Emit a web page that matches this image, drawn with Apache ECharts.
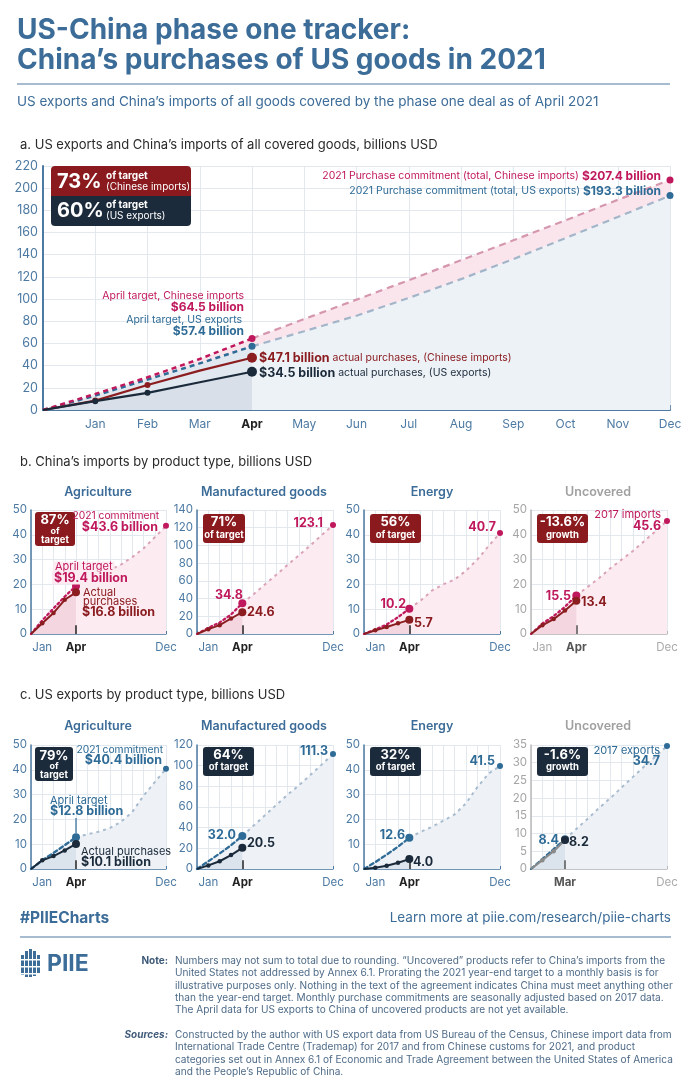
<!DOCTYPE html>
<html><head><meta charset="utf-8">
<script src="https://cdn.jsdelivr.net/npm/echarts@6/dist/echarts.min.js"></script>
<style>html,body{margin:0;padding:0;background:#fff}#c{width:699px;height:1088px}</style>
</head><body><div id="c"></div>
<script>
// ---------- DATA ----------
const months = ['', 'Jan','Feb','Mar','Apr','May','Jun','Jul','Aug','Sep','Oct','Nov','Dec'];
// a. all covered goods (billions USD, cumulative)
const aCnTarget = [0, 14.5, 29.5, 46, 64.5, 82, 99.5, 117, 135, 153, 171, 189.5, 207.4];
const aUsTarget = [0, 13, 27.5, 42, 57.4, 71, 85, 101, 118, 136, 155, 174, 193.3];
const aCnActual = [0, 8.5, 22.5, 35.5, 47.1];
const aUsActual = [0, 8, 15.5, 25, 34.5];
const aCnPct = '73%', aUsPct = '60%';
// b. China's imports by product type
const bAgTarget = [0, 5.5, 10.3, 15.1, 19.4, 21.5, 23.5, 25.8, 28, 31, 34.5, 39, 43.6];
const bAgActual = [0, 4.3, 8.5, 13.8, 16.8];
const bMfTarget = [0, 7, 13, 22, 34.8, 45, 56, 67, 78, 89, 100, 111.5, 123.1];
const bMfActual = [0, 5.5, 10, 17.5, 24.6];
const bEnTarget = [0, 1.8, 3.8, 6.8, 10.2, 13.5, 17.5, 20, 22, 25.5, 30, 35.5, 40.7];
const bEnActual = [0, 1.5, 2.8, 4.3, 5.7];
const bUnTarget = [0, 4.2, 7.2, 11, 15.5, 19, 22.5, 26.5, 30, 33.5, 37.5, 41.5, 45.6];
const bUnActual = [0, 3.5, 6, 9.5, 13.4];
const bPct = ['87%', '71%', '56%', '-13.6%'];
// c. US exports by product type
const cAgTarget = [0, 3.5, 6.5, 9.6, 12.8, 14, 15, 16.5, 19, 23, 29.5, 35, 40.4];
const cAgActual = [0, 3.5, 5.2, 7.5, 10.1];
const cMfTarget = [0, 7.5, 15, 23, 32.0, 42, 52, 62, 72, 81, 91, 101, 111.3];
const cMfActual = [0, 3.5, 7.5, 13.5, 20.5];
const cEnTarget = [0, 2.8, 5.8, 9, 12.6, 15, 17, 19.5, 22, 26.5, 33, 38.5, 41.5];
const cEnActual = [0, 0.5, 1.3, 2.5, 4.0];
const cUnTarget = [0, 2.8, 5.6, 8.4, 11.3, 14.2, 17.2, 20, 23, 26, 29, 31.8, 34.7];
const cUnActual = [0, 2.5, 5, 8.2];
const cPct = ['79%', '64%', '32%', '-1.6%'];

// ---------- STYLE ----------
const FONT = "Inter, 'Open Sans', sans-serif";
const C = {
  title:'#3c6c98', magenta:'#c0185c', magentaLight:'#dba3b8', darkred:'#8b1d20',
  navy:'#1b2a3a', blue:'#2e6b96', blueLight:'#a9bccf', axis:'#4d7aa3', grid:'#e3e8ef',
  gray:'#a8a8a8', redBox:'#8a1a1e', navyBox:'#1c2b3b', note:'#4e6b88'
};
const f1 = v => v.toFixed(1);

const grids=[], xAxes=[], yAxes=[], series=[], G=[];

function line(g, o){ return Object.assign({type:'line', xAxisIndex:g, yAxisIndex:g, silent:true, animation:false, showAllSymbol:true, symbol:'circle'}, o); }

// ---------- PANEL A ----------
grids.push({left:43, top:166, width:627, height:244});
xAxes.push({gridIndex:0, type:'category', data:months, boundaryGap:false,
  axisLine:{lineStyle:{color:C.axis, width:2}},
  axisTick:{show:true, inside:true, length:5, interval:0, lineStyle:{color:C.axis, width:1.5}},
  axisLabel:{interval:0, margin:8, formatter:v => v==='Apr' ? '{b|Apr}' : '{n|'+v+'}',
    rich:{b:{fontFamily:FONT, fontWeight:'bold', fontSize:12, color:'#222'}, n:{fontFamily:FONT, fontSize:12, color:C.axis}}},
  splitLine:{show:true, interval:0, lineStyle:{color:C.grid}}});
yAxes.push({gridIndex:0, type:'value', min:0, max:220, interval:20,
  axisLine:{show:true, lineStyle:{color:C.axis, width:2}}, axisTick:{show:false},
  axisLabel:{fontFamily:FONT, fontSize:12.5, color:C.axis, margin:5},
  splitLine:{lineStyle:{color:C.grid}}});
const aBand = aCnTarget.map((v,i)=> +(v - aUsTarget[i]).toFixed(2));
const preA = arr => arr.slice(0,5);
const postA = arr => arr.map((v,i)=> i<4 ? null : v);
series.push(
  line(0,{data:aUsTarget, stack:'band', symbol:'none', lineStyle:{width:0}, areaStyle:{color:'#edf2f7', opacity:1}, z:1}),
  line(0,{data:aBand, stack:'band', symbol:'none', lineStyle:{width:0}, areaStyle:{color:'#fbe5ed', opacity:1}, z:1}),
  line(0,{data:preA(aUsTarget), symbol:'none', lineStyle:{width:0}, areaStyle:{color:'#e2e8ef', opacity:1}, z:1}),
  line(0,{data:aUsActual, symbol:'none', lineStyle:{width:0}, areaStyle:{color:'#d8dfe8', opacity:1}, z:1}),
  line(0,{data:postA(aCnTarget), lineStyle:{color:'#d597ae', width:2.2, type:[7,5]}, itemStyle:{color:C.magenta},
    symbolSize:(v,p)=> p.dataIndex===12 ? 7 : 0, z:3}),
  line(0,{data:postA(aUsTarget), lineStyle:{color:'#a3b5c8', width:2.2, type:[7,5]}, itemStyle:{color:C.blue},
    symbolSize:(v,p)=> p.dataIndex===12 ? 7 : 0, z:3}),
  line(0,{data:preA(aUsTarget), lineStyle:{color:C.blue, width:2.5, type:[5,4]}, itemStyle:{color:C.blue},
    symbolSize:(v,p)=> p.dataIndex===4 ? 7 : 0, z:4}),
  line(0,{data:preA(aCnTarget), lineStyle:{color:C.magenta, width:2.5, type:[5,4]}, itemStyle:{color:C.magenta},
    symbolSize:(v,p)=> p.dataIndex===4 ? 7 : 0, z:4}),
  line(0,{data:aCnActual, lineStyle:{color:C.darkred, width:2.2}, itemStyle:{color:C.darkred},
    symbolSize:(v,p)=> p.dataIndex===4 ? 10 : (p.dataIndex===1||p.dataIndex===2 ? 6 : 0), z:5}),
  line(0,{data:aUsActual, lineStyle:{color:C.navy, width:2.2}, itemStyle:{color:C.navy},
    symbolSize:(v,p)=> p.dataIndex===4 ? 10 : (p.dataIndex===1||p.dataIndex===2 ? 6 : 0), z:5})
);

// ---------- SMALL CHARTS ----------
function small(cfg){
  const g = grids.length;
  const imp = cfg.kind==='imp';
  const strong = imp ? C.magenta : C.blue;
  const light = imp ? C.magentaLight : C.blueLight;
  const fillL = imp ? '#fcecf2' : '#eef2f7';
  const fillD = imp ? '#f4d6e1' : '#dbe3ec';
  const act = cfg.actColor || (imp ? C.darkred : C.navy);
  const axisC = cfg.unc ? '#b8b8b8' : C.axis;
  const split = cfg.actual.length - 1;
  grids.push({left:cfg.left, top:cfg.top, width:cfg.width||136, height:124});
  xAxes.push({gridIndex:g, type:'category', data:months, boundaryGap:false,
    axisLine:{lineStyle:{color:axisC, width:1.5}},
    axisTick:{show:true, inside:true, length:3, interval:0, lineStyle:{color:axisC}},
    axisLabel:{interval:0, margin:8, formatter:(v,i)=> cfg.xl[i] ? '{'+cfg.xl[i]+'|'+v+'}' : '',
      rich:{n:{fontFamily:FONT, fontSize:11.5, color:C.axis}, b:{fontFamily:FONT, fontSize:11.5, fontWeight:'bold', color:cfg.unc?'#555':'#222'},
            g:{fontFamily:FONT, fontSize:11.5, color:'#aaa'}}},
    splitLine:{show:true, interval:0, lineStyle:{color:C.grid}}});
  yAxes.push({gridIndex:g, type:'value', min:0, max:cfg.max, interval:cfg.step,
    axisLine:{show:true, lineStyle:{color:axisC, width:1.5}}, axisTick:{show:false},
    axisLabel:{fontFamily:FONT, fontSize:11.5, color:cfg.unc ? '#a5a5a5' : C.axis, margin:4},
    splitLine:{lineStyle:{color:C.grid}}});
  const pre = cfg.target.slice(0, split+1);
  const post = cfg.target.map((v,i)=> i<split ? null : v);
  series.push(
    line(g,{data:cfg.target, symbol:'none', lineStyle:{width:0}, areaStyle:{color:fillL, opacity:1}, z:1}),
    line(g,{data:cfg.actual, symbol:'none', lineStyle:{width:0}, areaStyle:{color:fillD, opacity:1}, z:1}),
    line(g,{data:post, lineStyle:{color:light, width:2, type:[3,4]}, itemStyle:{color:strong},
      symbolSize:(v,p)=> p.dataIndex===12 ? 6 : 0, z:3}),
    line(g,{data:pre, lineStyle:{color:strong, width:2.3, type:imp?[2,3]:[4,3], cap:'round'}, itemStyle:{color:strong},
      symbolSize:(v,p)=> p.dataIndex===split ? 8 : 0, z:4}),
    line(g,{data:cfg.actual, lineStyle:{color:act, width:2}, itemStyle:{color:act},
      symbolSize:(v,p)=> p.dataIndex===split ? 8 : (p.dataIndex===0 ? 0 : 4.5), z:5,
      markLine:{silent:true, symbol:'none', animation:false, label:{show:false},
        lineStyle:{color:cfg.unc?'#555':'#222', width:1.5, type:'solid'},
        data:[[{coord:[split,0]},{coord:[split, cfg.max*0.07]}]]}})
  );
  if (cfg.endDot) {
    series.push(line(g,{data:cfg.actual.map((v,i)=> i===split ? v : null), lineStyle:{width:0}, itemStyle:{color:cfg.endDot}, symbolSize:8, z:6}));
  }
}
const XL = {1:'n', 4:'b', 12:'n'};
const XLU = {1:'g', 4:'b', 12:'g'};
small({left:31, top:510, width:135, max:50, step:10, target:bAgTarget, actual:bAgActual, kind:'imp', xl:XL});
small({left:197, top:510, max:140, step:20, target:bMfTarget, actual:bMfActual, kind:'imp', xl:XL});
small({left:364, top:510, max:50, step:10, target:bEnTarget, actual:bEnActual, kind:'imp', xl:XL});
small({left:531, top:510, max:50, step:10, target:bUnTarget, actual:bUnActual, kind:'imp', xl:XLU, unc:true});
small({left:31, top:745, width:135, max:50, step:10, target:cAgTarget, actual:cAgActual, kind:'exp', xl:XL});
small({left:197, top:745, max:120, step:20, target:cMfTarget, actual:cMfActual, kind:'exp', xl:XL});
small({left:364, top:745, max:50, step:10, target:cEnTarget, actual:cEnActual, kind:'exp', xl:XL});
small({left:531, top:745, max:35, step:5, target:cUnTarget, actual:cUnActual, kind:'exp', xl:{3:'b', 12:'g'}, unc:true, actColor:'#8a8a8a', endDot:C.navy});

// ---------- TEXT / GRAPHICS ----------
function T(x, y, text, o={}){
  const st = {text, fill:o.color||'#333', fontSize:o.size||10.5,
    fontWeight:o.weight||'normal', fontStyle:o.style||'normal', fontFamily:FONT, align:o.align||'left', verticalAlign:'middle',
    rich:o.rich};
  if (o.bg) { st.backgroundColor = o.bg; st.padding = [0,2]; }
  return {type:'text', x, y, z:100, silent:true, style:st};
}
function R(x,y,w,h,fill,r){ return {type:'rect', z:90, silent:true, shape:{x,y,width:w,height:h,r:r===undefined?3:r}, style:{fill}}; }
function Ln(x1,y1,x2,y2,color,w){ return {type:'line', z:90, silent:true, shape:{x1,y1,x2,y2}, style:{stroke:color, lineWidth:w||1.5}}; }
const rs = (color, size, weight) => ({fill:color, color, fontSize:size, fontWeight:weight||'normal', fontFamily:FONT});

// Header
G.push(T(17, 31, 'US-China phase one tracker:', {color:C.title, size:28, weight:'bold'}));
G.push(T(17, 61, 'China’s purchases of US goods in 2021', {color:C.title, size:28, weight:'bold'}));
G.push(Ln(17, 84, 670, 84, '#8aa6c1', 1.5));
G.push(T(17, 102, 'US exports and China’s imports of all goods covered by the phase one deal as of April 2021', {color:C.title, size:13.5}));
G.push(T(20, 145, 'a. US exports and China’s imports of all covered goods, billions USD', {color:'#2a2a2a', size:13}));
G.push(T(20, 462, 'b. China’s imports by product type, billions USD', {color:'#2a2a2a', size:13}));
G.push(T(20, 695, 'c. US exports by product type, billions USD', {color:'#2a2a2a', size:13}));

// Panel a annotations
G.push(R(51, 166, 140, 31, C.redBox, [4,4,0,0]));
G.push(R(51, 196, 140, 30, C.navyBox, [0,0,4,4]));
G.push(T(57, 182, aCnPct, {color:'#fff', size:20, weight:'bold'}));
G.push(T(106, 176, 'of target', {color:'#fff', size:10, weight:'bold'}));
G.push(T(106, 187, '(Chinese imports)', {color:'#fff', size:10}));
G.push(T(57, 211, aUsPct, {color:'#fff', size:20, weight:'bold'}));
G.push(T(106, 205, 'of target', {color:'#fff', size:10, weight:'bold'}));
G.push(T(106, 216, '(US exports)', {color:'#fff', size:10}));
G.push(T(661, 176, '{r|2021 Purchase commitment (total, Chinese imports) }{b|$'+f1(aCnTarget[12])+' billion}',
  {align:'right', rich:{r:rs(C.magenta,10.5), b:rs(C.magenta,12,'bold')}}));
G.push(T(661, 191, '{r|2021 Purchase commitment (total, US exports) }{b|$'+f1(aUsTarget[12])+' billion}',
  {align:'right', rich:{r:rs(C.blue,10.5), b:rs(C.blue,12,'bold')}}));
G.push(T(244, 296, 'April target, Chinese imports', {color:C.magenta, size:10.5, align:'right'}));
G.push(T(244, 307, '$'+f1(aCnTarget[4])+' billion', {color:C.magenta, size:12, weight:'bold', align:'right'}));
G.push(T(242, 320, 'April target, US exports', {color:C.blue, size:10.5, align:'right'}));
G.push(T(244, 331, '$'+f1(aUsTarget[4])+' billion', {color:C.blue, size:12, weight:'bold', align:'right'}));
G.push(T(259, 358, '{b|$'+f1(aCnActual[4])+' billion}{r| actual purchases, (Chinese imports)}',
  {rich:{b:rs(C.darkred,12.5,'bold'), r:rs(C.darkred,10.5)}}));
G.push(T(259, 373, '{b|$'+f1(aUsActual[4])+' billion}{r| actual purchases, (US exports)}',
  {rich:{b:rs(C.navy,12.5,'bold'), r:rs(C.navy,10.5)}}));

// Small chart titles
const titles = ['Agriculture','Manufactured goods','Energy','Uncovered'];
const tx = [98, 264, 432, 598];
[492, 726].forEach(y => titles.forEach((t,i) => G.push(T(tx[i], y, t, {color: i===3 ? '#a0a0a0' : C.title, size:12.5, weight:600, align:'center'}))));

// Boxes
function pctBox(x, y, w, h, fill, lines){
  G.push(R(x, y, w, h, fill));
  lines.forEach(l => G.push(T(x + w/2, l[1], l[0], {color:'#fff', size:l[2], weight:'bold', align:'center'})));
}
pctBox(35, 512, 40, 34, C.redBox, [[bPct[0],520,13],['of',531,9],['target',540,9.5]]);
pctBox(203, 514, 42, 29, C.redBox, [[bPct[1],522,13],['of target',535,9.5]]);
pctBox(370, 514, 51, 29, C.redBox, [[bPct[2],522,13],['of target',535,9.5]]);
pctBox(537, 514, 51, 29, C.redBox, [[bPct[3],522,13],['growth',535,9.5]]);
pctBox(35, 747, 38, 34, C.navyBox, [[cPct[0],756,13],['of',766,9],['target',775,9.5]]);
pctBox(203, 747, 51, 29, C.navyBox, [[cPct[1],755,13],['of target',767,9.5]]);
pctBox(370, 747, 51, 29, C.navyBox, [[cPct[2],755,13],['of target',767,9.5]]);
pctBox(537, 747, 51, 29, C.navyBox, [[cPct[3],755,13],['growth',767,9.5]]);

const RS = 11, BS = 12.5;
// b annotations
G.push(T(159, 516, '2021 commitment', {color:C.magenta, size:10.3, align:'right'}));
G.push(T(158, 527, '$'+f1(bAgTarget[12])+' billion', {color:C.magenta, size:BS, weight:'bold', align:'right'}));
G.push(T(53, 567, 'April target', {color:C.magenta, size:RS, bg:'#fcecf2'}));
G.push(T(52, 578, '$'+f1(bAgTarget[4])+' billion', {color:C.magenta, size:BS, weight:'bold', bg:'#fcecf2'}));
G.push(T(83, 593, 'Actual', {color:C.darkred, size:RS}));
G.push(T(83, 602, 'purchases', {color:C.darkred, size:RS}));
G.push(T(82, 612, '$'+f1(bAgActual[4])+' billion', {color:C.darkred, size:BS, weight:'bold'}));
G.push(T(323, 523, f1(bMfTarget[12]), {color:C.magenta, size:BS, weight:'bold', align:'right'}));
G.push(T(243, 595, f1(bMfTarget[4]), {color:C.magenta, size:BS, weight:'bold', align:'right'}));
G.push(T(247, 612, f1(bMfActual[4]), {color:C.darkred, size:BS, weight:'bold'}));
G.push(T(496, 527, f1(bEnTarget[12]), {color:C.magenta, size:BS, weight:'bold', align:'right'}));
G.push(T(406, 604, f1(bEnTarget[4]), {color:C.magenta, size:BS, weight:'bold', align:'right'}));
G.push(T(414, 623, f1(bEnActual[4]), {color:C.darkred, size:BS, weight:'bold'}));
G.push(T(661, 515, '2017 imports', {color:C.magenta, size:RS, align:'right'}));
G.push(T(661, 526, f1(bUnTarget[12]), {color:C.magenta, size:BS, weight:'bold', align:'right'}));
G.push(T(571, 596, f1(bUnTarget[4]), {color:C.magenta, size:BS, weight:'bold', align:'right'}));
G.push(T(581, 602, f1(bUnActual[4]), {color:C.darkred, size:BS, weight:'bold'}));

// c annotations
G.push(T(163, 750, '2021 commitment', {color:C.blue, size:10.3, align:'right'}));
G.push(T(162, 760, '$'+f1(cAgTarget[12])+' billion', {color:C.blue, size:BS, weight:'bold', align:'right'}));
G.push(T(50, 801, 'April target', {color:C.blue, size:RS}));
G.push(T(50, 811, '$'+f1(cAgTarget[4])+' billion', {color:C.blue, size:BS, weight:'bold'}));
G.push(Ln(76, 818, 76, 833, C.blue, 1.2));
G.push(T(81, 852, 'Actual purchases', {color:C.navy, size:RS}));
G.push(T(81, 862, '$'+f1(cAgActual[4])+' billion', {color:C.navy, size:BS, weight:'bold'}));
G.push(T(328, 751, f1(cMfTarget[12]), {color:C.blue, size:BS, weight:'bold', align:'right'}));
G.push(T(236, 835, f1(cMfTarget[4]), {color:C.blue, size:BS, weight:'bold', align:'right'}));
G.push(T(247, 843, f1(cMfActual[4]), {color:C.navy, size:BS, weight:'bold'}));
G.push(T(495, 761, f1(cEnTarget[12]), {color:C.blue, size:BS, weight:'bold', align:'right'}));
G.push(T(405, 835, f1(cEnTarget[4]), {color:C.blue, size:BS, weight:'bold', align:'right'}));
G.push(T(413, 862, f1(cEnActual[4]), {color:C.navy, size:BS, weight:'bold'}));
G.push(T(660, 751, '2017 exports', {color:C.blue, size:RS, align:'right'}));
G.push(T(660, 761, f1(cUnTarget[12]), {color:C.blue, size:BS, weight:'bold', align:'right'}));
G.push(T(559, 840, f1(cUnTarget[3]), {color:C.blue, size:BS, weight:'bold', align:'right'}));
G.push(T(569, 842, f1(cUnActual[3]), {color:C.navy, size:BS, weight:'bold'}));

// Footer
G.push(T(20, 918, '#PIIECharts', {color:C.title, size:15.5, weight:'bold'}));
G.push(T(671, 918, 'Learn more at piie.com/research/piie-charts', {color:C.title, size:13.5, align:'right'}));
G.push(Ln(20, 937, 671, 937, '#8aa6c1', 1.5));
// logo
[[21,955,3,20],[25,951,3,26],[29,949,3,28],[33,951,3,25],[37,955,3,18]].forEach(b => G.push(R(b[0],b[1],b[2],b[3],C.title,0)));
[[20,959,22],[20,966,22],[20,973,20]].forEach(b => G.push(R(b[0],b[1],b[2],1.5,'#fff',0)));
G.push(T(47, 964, 'PIIE', {color:C.title, size:23, weight:'bold'}));
const noteLines = [
  'Numbers may not sum to total due to rounding. “Uncovered” products refer to China’s imports from the',
  'United States not addressed by Annex 6.1. Prorating the 2021 year-end target to a monthly basis is for',
  'illustrative purposes only. Nothing in the text of the agreement indicates China must meet anything other',
  'than the year-end target. Monthly purchase commitments are seasonally adjusted based on 2017 data.',
  'The April data for US exports to China of uncovered products are not yet available.'];
const sourceLines = [
  'Constructed by the author with US export data from US Bureau of the Census, Chinese import data from',
  'International Trade Centre (Trademap) for 2017 and from Chinese customs for 2021, and product',
  'categories set out in Annex 6.1 of Economic and Trade Agreement between the United States of America',
  'and the People’s Republic of China.'];
const LH = 12.3;
G.push(T(168, 961, 'Note:', {color:'#3e5a78', size:10, weight:'bold', align:'right'}));
noteLines.forEach((l,i)=> G.push(T(175, 961 + i*LH, l, {color:C.note, size:10.1})));
G.push(T(168, 1035, 'Sources:', {color:'#3e5a78', size:10, weight:'bold', style:'italic', align:'right'}));
sourceLines.forEach((l,i)=> G.push(T(175, 1035 + i*LH, l, {color:C.note, size:10.1})));

const chart = echarts.init(document.getElementById('c'), null, {renderer:'canvas'});
chart.setOption({animation:false, backgroundColor:'#fff', grid:grids, xAxis:xAxes, yAxis:yAxes, series, graphic:{elements:G}});
</script></body></html>
